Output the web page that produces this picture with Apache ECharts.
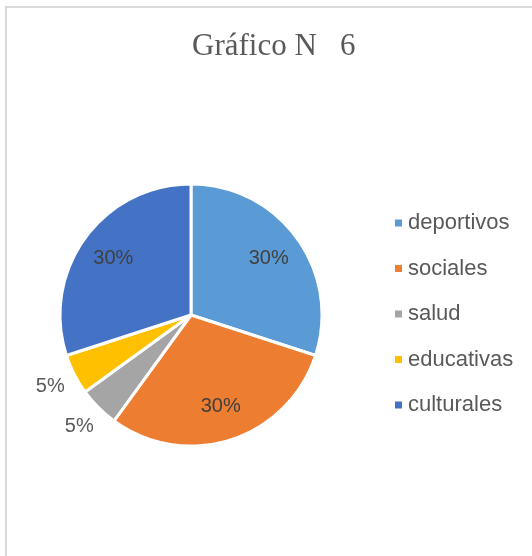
<!DOCTYPE html>
<html>
<head>
<meta charset="utf-8">
<script src="https://cdn.jsdelivr.net/npm/echarts@6/dist/echarts.min.js"></script>
<style>
  html, body { margin: 0; padding: 0; background: #fff; overflow: hidden; width: 532px; height: 556px; }
  #frame { position: absolute; left: 5px; top: 6px; width: 700px; height: 700px; border: 2px solid #d9d9d9; }
  #chart { position: absolute; left: 0; top: 0; width: 532px; height: 556px; }
</style>
</head>
<body>
<div id="frame"></div>
<div id="chart"></div>
<script>
// datos del gráfico
var categorias = ['deportivos', 'sociales', 'salud', 'educativas', 'culturales'];
var valores = [30, 30, 5, 5, 30];
var colores = ['#5B9BD5', '#ED7D31', '#A5A5A5', '#FFC000', '#4472C4'];
var etiquetas = ['30%', '30%', '5%', '5%', '30%'];
var titulo = 'Gráfico N   6';

var centro = [191, 315];

function datos(mostrar) {
    var d = [];
    for (var i = 0; i < categorias.length; i++) {
        d.push({
            name: categorias[i],
            value: valores[i],
            itemStyle: { color: colores[i] },
            label: { show: mostrar ? mostrar(i) : false, formatter: etiquetas[i] }
        });
    }
    return d;
}

// serie transparente solo para las etiquetas
function serieEtiquetas(radio, mostrar, color) {
    return {
        type: 'pie',
        silent: true,
        center: centro,
        radius: [0, radio],
        startAngle: 90,
        clockwise: true,
        itemStyle: { color: 'transparent', borderWidth: 0 },
        label: {
            position: 'inside',
            color: color,
            fontFamily: 'Liberation Sans',
            fontSize: 20
        },
        labelLine: { show: false },
        emphasis: { disabled: true },
        data: datos(mostrar).map(function (x) { x.itemStyle = { color: 'transparent' }; return x; })
    };
}

var myChart = echarts.init(document.getElementById('chart'));
var option = {
    animation: false,
    title: {
        text: titulo,
        left: 187,
        top: 26,
        textStyle: {
            fontFamily: 'Liberation Serif',
            fontWeight: 'normal',
            fontSize: 31,
            color: '#595959'
        }
    },
    legend: {
        orient: 'vertical',
        left: 388,
        top: 207,
        itemWidth: 9,
        itemHeight: 9,
        itemGap: 23.5,
        icon: 'rect',
        textStyle: {
            fontFamily: 'Liberation Sans',
            fontSize: 22,
            color: '#595959',
            lineHeight: 22
        },
        data: categorias.map(function (c, i) {
            return { name: c, itemStyle: { color: colores[i] } };
        })
    },
    series: [
        {
            type: 'pie',
            center: centro,
            radius: [0, 131],
            startAngle: 90,
            clockwise: true,
            itemStyle: { borderColor: '#ffffff', borderWidth: 3 },
            label: { show: false },
            labelLine: { show: false },
            emphasis: { disabled: true },
            data: datos(null)
        },
        serieEtiquetas(186, function (i) { return valores[i] >= 10; }, '#404040'),
        serieEtiquetas(310, function (i) { return valores[i] < 10; }, '#595959')
    ]
};
myChart.setOption(option);
</script>
</body>
</html>
